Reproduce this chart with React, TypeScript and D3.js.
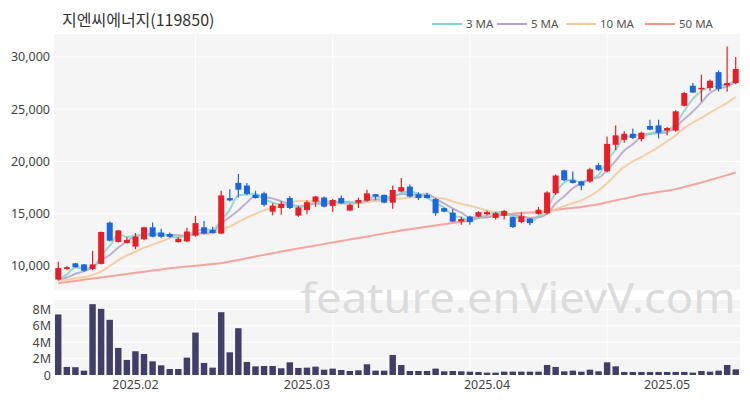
import React from "react";
import * as d3 from "d3";

// ---- data ----
const opens = [8700,9700,10250,10150,9700,10200,14150,12300,12200,11850,
 12550,13700,13200,13050,12280,12350,12900,13700,13450,13100,
 16500,17950,17700,16800,16950,15200,15550,16500,14820,15350,
 16150,16550,15750,16500,15300,16050,16250,16870,16800,16060,
 17120,17600,16870,16800,16400,15530,15100,14250,14720,14720,
 14950,14600,14800,14670,14200,14530,14980,15050,16960,19150,
 18200,18100,18080,19650,19060,21600,22070,22650,22150,23400,
 23450,22960,22950,25330,27250,26900,27030,28550,27280,27510];
const highs = [10400,10000,10300,10200,11450,13300,14250,13450,12750,13150,
 13750,14150,13550,13200,12750,13650,14800,14300,13750,17200,
 17350,18800,17950,17200,17100,16000,16200,16700,15750,16300,
 16700,16650,16400,16750,15950,16550,17300,16900,16850,17700,
 18420,17800,17050,17000,16500,15600,15450,14700,14800,15250,
 15300,15150,15350,14700,15150,14600,15650,17150,18750,19200,
 19050,18150,19400,19850,22400,23450,22900,23150,22850,24000,
 24000,23300,24900,26650,27500,28300,27850,28700,31000,30000];
const lows = [8600,9650,9850,9450,9600,10150,12350,12250,12150,11600,
 12450,12750,12700,12700,12250,12300,12800,13000,13100,13050,
 16200,16550,16800,16450,15700,14850,14900,15450,14700,14950,
 15650,15600,15200,15950,15250,15550,16150,16300,16000,15470,
 17050,16550,16300,16450,14800,15150,14200,13950,13950,14650,
 14850,14450,14450,13650,14100,13900,14900,14950,16800,18100,
 17900,17250,17950,19100,18950,21100,21800,22150,21900,23000,
 22200,22500,22850,25250,26550,25750,26750,26700,26700,27400];
const closes = [9800,9880,9880,9550,10150,13250,12420,13400,12500,12800,
 13700,12800,12800,12800,12600,13300,14100,13100,13150,16750,
 16270,17300,16900,16500,15850,15780,15950,15550,15600,16100,
 16650,15680,16320,16000,15850,16320,16950,16640,16060,17280,
 17540,16640,16500,16500,15050,15200,14250,14500,14200,15150,
 15150,15050,15270,13720,14750,14100,15380,17030,18650,18200,
 17950,17700,19250,19200,21680,22500,22650,22250,22750,23050,
 22750,23200,24800,26550,26600,27050,27720,26950,27500,28850];
// volume in millions
const volumes = [7.39,0.98,0.95,0.53,8.65,8.08,6.74,3.31,1.84,2.9,
 2.57,1.67,1.18,0.73,0.73,2.12,5.18,1.47,0.9,7.67,
 2.77,5.71,1.59,1.06,1.1,1.1,0.82,1.55,0.86,0.9,
 1.02,0.65,0.78,0.61,0.49,0.57,1.31,0.53,0.53,2.45,
 1.22,0.49,0.49,0.49,0.78,0.45,0.49,0.45,0.41,0.37,
 0.29,0.29,0.41,0.41,0.41,0.41,0.41,1.22,0.98,0.45,
 0.53,0.41,0.65,0.45,1.55,1.06,0.37,0.37,0.37,0.37,
 0.37,0.37,0.37,0.37,0.29,0.49,0.41,0.53,1.22,0.69];

// moving-average values at the start of the window (their history lies before the chart)
const ma3Lead = [8700, 9200];
const ma5Lead = [8700, 8900, 9250, 9500];
const ma10Lead = [8550, 8660, 8820, 8920, 9140, 9460, 10000, 10550, 11000];
const ma50Lead = [8350, 8460, 8570, 8680, 8790, 8900, 9010, 9120, 9230, 9340,
 9450, 9560, 9670, 9780, 9860, 9940, 10020, 10100, 10180, 10270,
 10420, 10580, 10740, 10900, 11060, 11220, 11380, 11530, 11670, 11810,
 11960, 12100, 12240, 12390, 12530, 12670, 12820, 12960, 13100, 13250,
 13400, 13520, 13640, 13760, 13880, 14000, 14120, 14250, 14380];

const priceTicks = [10000, 15000, 20000, 25000, 30000];
const volumeTicks = [0, 2, 4, 6, 8];
const monthLabels = ["2025.02", "2025.03", "2025.04", "2025.05"];
const monthStartIndex = [9, 29, 50, 71];
const gridIndex = [16, 32, 48, 64];

const maNames = ["3 MA", "5 MA", "10 MA", "50 MA"];
const maPeriods = [3, 5, 10, 50];
const maLeads = [ma3Lead, ma5Lead, ma10Lead, ma50Lead];
const maColors = ["#82d5cb", "#b4a6c9", "#f4c995", "#f7978a"];

const title = "지엔씨에너지(119850)";
const watermark = "feature.enVievV.com";

// ---- layout ----
const W = 750, H = 400;
const left = 54, right = 740;
const pTop = 34, pBottom = 290;
const vTop = 300, vBottom = 375;
const UP = "#eb1c24";
const DOWN = "#1a66dc";
const BG = "#f5f5f6";
const FONT = "'Noto Sans', 'Noto Sans CJK KR', sans-serif";

function movingAverage(period: number, lead: number[]) {
  return closes.map((_, i) => {
    if (i < period - 1) return lead[i];
    return d3.mean(closes.slice(i - period + 1, i + 1)) as number;
  });
}

export default function App() {
  const idx = d3.range(closes.length);
  const xBand = d3.scaleBand<number>().domain(idx).range([left, right]).paddingInner(0.3).paddingOuter(0.15);
  const xVol = d3.scaleBand<number>().domain(idx).range([left, right]).paddingInner(0.25).paddingOuter(0.12);
  const cx = (i: number) => (xBand(i) as number) + xBand.bandwidth() / 2;
  const y = d3.scaleLinear().domain([7700, 32200]).range([pBottom, pTop]);
  const yv = d3.scaleLinear().domain([0, 9.16]).range([vBottom, vTop]);

  const mas = maPeriods.map((p, k) => movingAverage(p, maLeads[k]));
  const line = d3.line<number>().x((_, i) => cx(i)).y((d) => y(d)).curve(d3.curveMonotoneX);

  const fmt = d3.format(",");

  // legend layout
  const legendX = [432, 497, 566, 645];

  return (
    <div style={{ position: "fixed", left: 0, top: 0 }}>
      <svg width={W} height={H} style={{ display: "block", background: "#fff" }}>
        {/* title */}
        <text x={62} y={26} fontFamily="'Noto Sans CJK KR', sans-serif" fontSize={16} fill="#333">{title}</text>

        {/* legend */}
        {maNames.map((n, k) => (
          <g key={n}>
            <line x1={legendX[k]} x2={legendX[k] + 30} y1={24} y2={24} stroke={maColors[k]} strokeWidth={2} />
            <text x={legendX[k] + 34} y={28} fontFamily={FONT} fontSize={11.5} fill="#555">{n}</text>
          </g>
        ))}

        {/* price panel */}
        <rect x={left} y={pTop} width={right - left} height={pBottom - pTop} fill={BG} />
        {priceTicks.map((t) => (
          <g key={t}>
            <line x1={left} x2={right} y1={y(t)} y2={y(t)} stroke="#fff" strokeWidth={1} />
            <text x={50} y={y(t) + 4.5} textAnchor="end" fontFamily={FONT} fontSize={12.5} fill="#444">{fmt(t)}</text>
          </g>
        ))}
        {gridIndex.map((g) => (
          <line key={g} x1={cx(g)} x2={cx(g)} y1={pTop} y2={pBottom} stroke="#fff" strokeWidth={1} />
        ))}

        {/* volume panel */}
        <rect x={left} y={vTop} width={right - left} height={vBottom - vTop} fill={BG} />
        {volumeTicks.map((t) => (
          <g key={t}>
            <line x1={left} x2={right} y1={yv(t)} y2={yv(t)} stroke="#fff" strokeWidth={1} />
            <text x={51} y={yv(t) + 4.5} textAnchor="end" fontFamily={FONT} fontSize={12.5} fill="#444">{t === 0 ? "0" : `${t}M`}</text>
          </g>
        ))}
        {gridIndex.map((g) => (
          <line key={"v" + g} x1={cx(g)} x2={cx(g)} y1={vTop} y2={vBottom} stroke="#fff" strokeWidth={1} />
        ))}

        {/* watermark */}
        <text x={518} y={313} textAnchor="middle" fontFamily="'Noto Sans', sans-serif" fontSize={42} fill="#dcdcdc" textLength={435} lengthAdjust="spacingAndGlyphs">{watermark}</text>

        {/* MA lines */}
        {[3, 2, 1, 0].map((k) => (
          <path key={k} d={line(mas[k]) as string} fill="none" stroke={maColors[k]} strokeWidth={2} strokeOpacity={0.85} />
        ))}

        {/* candles */}
        {idx.map((i) => {
          const o = opens[i], c = closes[i];
          const col = c >= o ? UP : DOWN;
          const top = y(Math.max(o, c));
          const bot = y(Math.min(o, c));
          return (
            <g key={i}>
              <line x1={cx(i)} x2={cx(i)} y1={y(highs[i])} y2={y(lows[i])} stroke={col} strokeWidth={1.2} />
              <rect x={xBand(i)} y={top} width={xBand.bandwidth()} height={Math.max(1.5, bot - top)} fill={col} />
            </g>
          );
        })}

        {/* volume bars */}
        {idx.map((i) => (
          <rect key={i} x={xVol(i)} y={yv(volumes[i])} width={xVol.bandwidth()} height={yv(0) - yv(volumes[i])} fill="#413f68" />
        ))}

        {/* x axis labels */}
        {monthLabels.map((m, k) => (
          <text key={m} x={cx(monthStartIndex[k])} y={389} textAnchor="middle" fontFamily={FONT} fontSize={12.5} fill="#444">{m}</text>
        ))}
      </svg>
    </div>
  );
}
